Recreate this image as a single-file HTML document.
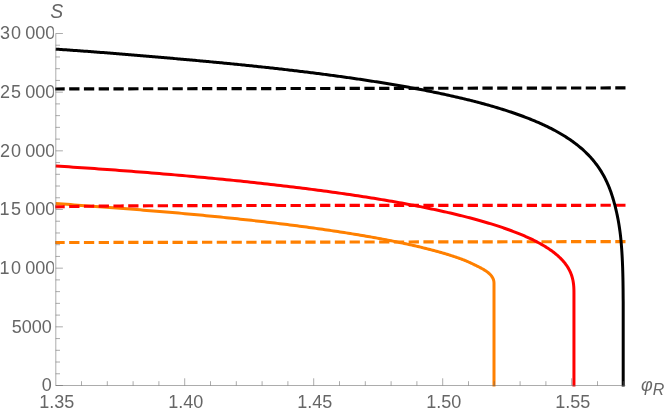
<!DOCTYPE html>
<html><head><meta charset="utf-8"><title>plot</title>
<style>
html,body{margin:0;padding:0;background:#fff;}
body{width:664px;height:415px;overflow:hidden;position:relative;font-family:"Liberation Sans",sans-serif;}
</style></head><body>
<svg width="664" height="415" viewBox="0 0 664 415" style="position:absolute;left:0;top:0;display:block;will-change:transform">
<rect width="664" height="415" fill="#fff"/>
<g id="curves">
<path d="M55.70,203.43 L59.41,203.68 L63.11,203.96 L66.79,204.27 L70.45,204.59 L74.10,204.91 L77.73,205.22 L81.34,205.52 L84.93,205.79 L88.51,206.04 L92.07,206.28 L95.61,206.53 L99.14,206.78 L102.65,207.03 L106.14,207.28 L109.61,207.53 L113.07,207.79 L116.51,208.04 L119.93,208.30 L123.34,208.56 L126.73,208.81 L130.10,209.07 L133.46,209.34 L136.79,209.60 L140.12,209.86 L143.42,210.13 L146.71,210.39 L149.98,210.66 L153.23,210.93 L156.47,211.19 L159.69,211.46 L162.89,211.74 L166.08,212.01 L169.25,212.28 L172.40,212.55 L175.54,212.83 L178.66,213.11 L181.76,213.38 L184.85,213.66 L187.92,213.94 L190.97,214.22 L194.00,214.50 L197.02,214.79 L200.03,215.07 L203.01,215.35 L205.98,215.64 L208.93,215.93 L211.87,216.21 L214.79,216.50 L217.69,216.79 L220.58,217.08 L223.45,217.37 L226.30,217.66 L229.14,217.96 L231.96,218.25 L234.76,218.54 L237.55,218.84 L240.32,219.14 L243.08,219.43 L245.81,219.73 L248.54,220.03 L251.24,220.33 L253.93,220.63 L256.60,220.93 L259.26,221.23 L261.90,221.53 L264.52,221.84 L267.13,222.14 L269.72,222.45 L272.30,222.75 L274.86,223.06 L277.40,223.37 L279.93,223.67 L282.44,223.98 L284.93,224.29 L287.41,224.60 L289.87,224.91 L292.32,225.23 L294.75,225.54 L297.16,225.85 L299.56,226.16 L301.94,226.48 L304.31,226.79 L306.66,227.11 L308.99,227.42 L311.31,227.74 L313.61,228.06 L315.90,228.37 L318.17,228.69 L320.42,229.01 L322.66,229.33 L324.88,229.65 L327.09,229.97 L329.28,230.29 L331.45,230.61 L333.61,230.94 L335.76,231.26 L337.88,231.58 L340.00,231.91 L342.09,232.23 L344.17,232.55 L346.24,232.88 L348.29,233.20 L350.32,233.53 L352.34,233.86 L354.34,234.18 L356.33,234.51 L358.30,234.84 L360.26,235.17 L362.20,235.49 L364.13,235.82 L366.04,236.15 L367.93,236.48 L369.81,236.81 L371.67,237.14 L373.52,237.47 L375.35,237.80 L377.17,238.14 L378.97,238.47 L380.76,238.80 L382.53,239.13 L384.29,239.46 L386.03,239.80 L387.76,240.13 L389.47,240.46 L391.16,240.80 L392.85,241.13 L394.51,241.46 L396.16,241.80 L397.80,242.13 L399.42,242.47 L401.02,242.80 L402.61,243.14 L404.19,243.47 L405.75,243.81 L407.30,244.14 L408.83,244.48 L410.34,244.81 L411.84,245.15 L413.33,245.48 L414.80,245.82 L416.26,246.16 L417.70,246.49 L419.13,246.83 L420.54,247.16 L421.94,247.50 L423.32,247.84 L424.69,248.17 L426.04,248.51 L427.38,248.85 L428.71,249.18 L430.02,249.52 L431.32,249.86 L432.60,250.19 L433.86,250.53 L435.12,250.87 L436.36,251.20 L437.58,251.54 L438.79,251.88 L439.99,252.21 L441.17,252.55 L442.33,252.88 L443.49,253.22 L444.62,253.56 L445.75,253.89 L446.86,254.23 L447.96,254.56 L449.04,254.90 L450.11,255.23 L451.16,255.57 L452.20,255.90 L453.23,256.24 L454.24,256.57 L455.24,256.90 L456.22,257.24 L457.19,257.57 L458.15,257.91 L459.09,258.24 L460.02,258.57 L460.94,258.90 L461.84,259.24 L462.73,259.57 L463.61,259.90 L464.47,260.23 L465.32,260.57 L466.15,260.92 L466.97,261.28 L467.78,261.63 L468.57,261.99 L469.36,262.35 L470.12,262.71 L470.88,263.06 L471.62,263.41 L472.35,263.76 L473.06,264.10 L473.76,264.44 L474.45,264.78 L475.13,265.11 L475.79,265.43 L476.44,265.75 L477.08,266.07 L477.71,266.38 L478.32,266.68 L478.92,266.99 L479.50,267.29 L480.08,267.58 L480.64,267.88 L481.18,268.17 L481.72,268.46 L482.24,268.75 L482.76,269.03 L483.25,269.32 L483.74,269.60 L484.21,269.89 L484.68,270.17 L485.13,270.46 L485.56,270.74 L485.99,271.03 L486.40,271.31 L486.80,271.60 L487.19,271.88 L487.57,272.17 L487.94,272.46 L488.29,272.75 L488.64,273.03 L488.97,273.32 L489.29,273.61 L489.60,273.90 L489.89,274.19 L490.18,274.48 L490.45,274.77 L490.72,275.06 L490.97,275.36 L491.21,275.65 L491.44,275.94 L491.66,276.24 L491.87,276.53 L492.07,276.83 L492.26,277.12 L492.43,277.42 L492.60,277.72 L492.76,278.01 L492.90,278.31 L493.04,278.61 L493.17,278.91 L493.29,279.22 L493.39,279.52 L493.49,279.83 L493.58,280.13 L493.66,280.44 L493.73,280.75 L493.79,281.06 L493.84,281.37 L493.89,281.69 L493.93,282.01 L493.95,282.33 L493.98,282.66 L493.99,282.99 L494.00,283.33 L494.00,283.70 L494.00,284.50 L494.00,386.50" fill="none" stroke="#ff8000" stroke-width="3" stroke-linejoin="round" stroke-linecap="butt"/>
<path d="M55.20,242.54 L625.50,241.59" fill="none" stroke="#ff8000" stroke-width="3.15" stroke-dasharray="10.3 4.46" stroke-dashoffset="0.8"/>
<path d="M55.70,166.00 L60.09,166.28 L64.46,166.57 L68.81,166.85 L73.15,167.14 L77.46,167.43 L81.75,167.72 L86.02,168.01 L90.27,168.31 L94.50,168.60 L98.70,168.90 L102.89,169.20 L107.06,169.50 L111.21,169.81 L115.34,170.11 L119.45,170.42 L123.53,170.72 L127.60,171.03 L131.65,171.35 L135.68,171.66 L139.68,171.97 L143.67,172.29 L147.64,172.61 L151.59,172.93 L155.51,173.25 L159.42,173.57 L163.31,173.90 L167.18,174.22 L171.02,174.55 L174.85,174.88 L178.66,175.21 L182.45,175.55 L186.21,175.88 L189.96,176.22 L193.69,176.56 L197.40,176.90 L201.09,177.24 L204.75,177.58 L208.40,177.92 L212.03,178.27 L215.64,178.62 L219.23,178.97 L222.80,179.32 L226.35,179.67 L229.88,180.02 L233.39,180.38 L236.88,180.74 L240.36,181.10 L243.81,181.46 L247.24,181.82 L250.65,182.18 L254.05,182.55 L257.42,182.91 L260.77,183.28 L264.11,183.65 L267.42,184.02 L270.72,184.39 L274.00,184.77 L277.25,185.14 L280.49,185.52 L283.71,185.90 L286.91,186.28 L290.09,186.66 L293.25,187.04 L296.39,187.43 L299.51,187.81 L302.61,188.20 L305.70,188.59 L308.76,188.98 L311.81,189.37 L314.83,189.76 L317.84,190.16 L320.83,190.56 L323.80,190.95 L326.74,191.35 L329.67,191.75 L332.59,192.15 L335.48,192.56 L338.35,192.96 L341.21,193.37 L344.04,193.78 L346.86,194.19 L349.65,194.60 L352.43,195.01 L355.19,195.42 L357.93,195.84 L360.65,196.25 L363.36,196.67 L366.04,197.09 L368.71,197.51 L371.35,197.93 L373.98,198.35 L376.59,198.78 L379.18,199.20 L381.75,199.63 L384.31,200.06 L386.84,200.49 L389.36,200.92 L391.86,201.35 L394.33,201.79 L396.79,202.22 L399.24,202.66 L401.66,203.10 L404.07,203.54 L406.45,203.98 L408.82,204.42 L411.17,204.86 L413.50,205.31 L415.81,205.75 L418.11,206.20 L420.39,206.65 L422.64,207.10 L424.88,207.55 L427.11,208.00 L429.31,208.46 L431.50,208.91 L433.66,209.37 L435.81,209.83 L437.94,210.29 L440.06,210.75 L442.15,211.21 L444.23,211.67 L446.29,212.14 L448.33,212.60 L450.35,213.07 L452.36,213.54 L454.34,214.01 L456.31,214.48 L458.27,214.95 L460.20,215.43 L462.12,215.90 L464.01,216.38 L465.89,216.86 L467.76,217.34 L469.60,217.82 L471.43,218.30 L473.24,218.78 L475.03,219.27 L476.81,219.75 L478.57,220.24 L480.31,220.73 L482.03,221.22 L483.73,221.71 L485.42,222.20 L487.09,222.69 L488.74,223.19 L490.38,223.68 L492.00,224.18 L493.60,224.68 L495.18,225.18 L496.75,225.68 L498.30,226.18 L499.83,226.69 L501.35,227.19 L502.85,227.70 L504.33,228.21 L505.79,228.72 L507.24,229.23 L508.67,229.74 L510.08,230.25 L511.48,230.77 L512.86,231.29 L514.22,231.80 L515.57,232.32 L516.90,232.84 L518.21,233.36 L519.51,233.89 L520.79,234.41 L522.05,234.94 L523.30,235.46 L524.53,235.99 L525.74,236.52 L526.94,237.05 L528.12,237.59 L529.28,238.12 L530.43,238.66 L531.56,239.20 L532.68,239.73 L533.78,240.27 L534.86,240.82 L535.93,241.36 L536.98,241.90 L538.01,242.45 L539.03,243.00 L540.03,243.55 L541.02,244.10 L541.99,244.65 L542.95,245.21 L543.89,245.76 L544.81,246.32 L545.72,246.88 L546.61,247.44 L547.49,248.00 L548.35,248.56 L549.19,249.13 L550.02,249.70 L550.84,250.27 L551.64,250.84 L552.42,251.41 L553.19,251.98 L553.94,252.56 L554.68,253.14 L555.41,253.72 L556.11,254.30 L556.81,254.88 L557.49,255.47 L558.15,256.06 L558.80,256.65 L559.43,257.24 L560.05,257.83 L560.65,258.43 L561.24,259.03 L561.82,259.63 L562.38,260.23 L562.93,260.84 L563.46,261.45 L563.98,262.06 L564.48,262.67 L564.97,263.28 L565.44,263.90 L565.90,264.52 L566.35,265.14 L566.78,265.77 L567.20,266.40 L567.61,267.03 L568.00,267.66 L568.38,268.30 L568.74,268.94 L569.09,269.59 L569.43,270.24 L569.76,270.89 L570.07,271.54 L570.37,272.20 L570.65,272.87 L570.92,273.53 L571.18,274.21 L571.43,274.88 L571.67,275.56 L571.89,276.25 L572.10,276.94 L572.30,277.64 L572.48,278.34 L572.66,279.05 L572.82,279.77 L572.97,280.49 L573.11,281.22 L573.23,281.96 L573.35,282.71 L573.45,283.47 L573.55,284.24 L573.63,285.03 L573.70,285.83 L573.77,286.64 L573.82,287.47 L573.86,288.33 L573.90,289.21 L573.92,290.13 L573.94,291.10 L573.95,292.16 L573.95,293.50 L573.95,386.50" fill="none" stroke="#ff0000" stroke-width="3" stroke-linejoin="round" stroke-linecap="butt"/>
<path d="M55.20,206.91 L62.42,206.70 L69.64,206.54 L76.86,206.41 L84.08,206.30 L91.29,206.20 L98.51,206.12 L105.73,206.06 L112.95,206.00 L120.17,205.95 L127.39,205.90 L134.61,205.86 L141.83,205.82 L149.05,205.79 L156.27,205.76 L163.48,205.73 L170.70,205.70 L177.92,205.68 L185.14,205.66 L192.36,205.64 L199.58,205.62 L206.80,205.60 L214.02,205.59 L221.24,205.57 L228.46,205.56 L235.67,205.55 L242.89,205.53 L250.11,205.52 L257.33,205.51 L264.55,205.50 L271.77,205.49 L278.99,205.48 L286.21,205.47 L293.43,205.46 L300.65,205.46 L307.86,205.45 L315.08,205.44 L322.30,205.43 L329.52,205.43 L336.74,205.42 L343.96,205.41 L351.18,205.41 L358.40,205.40 L365.62,205.40 L372.84,205.39 L380.05,205.39 L387.27,205.38 L394.49,205.38 L401.71,205.37 L408.93,205.37 L416.15,205.37 L423.37,205.36 L430.59,205.36 L437.81,205.35 L445.03,205.35 L452.24,205.35 L459.46,205.34 L466.68,205.34 L473.90,205.34 L481.12,205.33 L488.34,205.33 L495.56,205.33 L502.78,205.32 L510.00,205.32 L517.22,205.32 L524.43,205.32 L531.65,205.31 L538.87,205.31 L546.09,205.31 L553.31,205.31 L560.53,205.30 L567.75,205.30 L574.97,205.30 L582.19,205.30 L589.41,205.30 L596.62,205.29 L603.84,205.29 L611.06,205.29 L618.28,205.29 L625.50,205.29" fill="none" stroke="#ff0000" stroke-width="3.15" stroke-dasharray="10.3 4.46" stroke-dashoffset="0.8"/>
<path d="M55.70,49.17 L57.20,49.27 L58.69,49.37 L60.19,49.47 L61.69,49.57 L63.18,49.67 L64.68,49.77 L66.18,49.87 L67.67,49.98 L69.17,50.08 L70.67,50.18 L72.16,50.29 L73.66,50.39 L75.15,50.50 L76.65,50.60 L78.15,50.71 L79.64,50.82 L81.14,50.93 L82.64,51.03 L84.13,51.14 L85.63,51.25 L87.12,51.36 L88.62,51.47 L90.12,51.58 L91.61,51.70 L93.11,51.81 L94.60,51.92 L96.10,52.03 L97.59,52.15 L99.09,52.26 L100.59,52.38 L102.08,52.49 L103.58,52.61 L105.07,52.72 L106.57,52.84 L108.06,52.96 L109.56,53.08 L111.05,53.19 L112.55,53.31 L114.04,53.43 L115.54,53.55 L117.03,53.67 L118.53,53.79 L120.02,53.91 L121.52,54.03 L123.01,54.15 L124.51,54.27 L126.00,54.40 L127.50,54.52 L128.99,54.64 L130.49,54.77 L131.98,54.89 L133.48,55.01 L134.97,55.14 L136.47,55.26 L137.96,55.39 L139.46,55.51 L140.95,55.64 L142.45,55.77 L143.94,55.89 L145.44,56.02 L146.93,56.15 L148.43,56.27 L149.92,56.40 L151.41,56.53 L152.91,56.66 L154.40,56.79 L155.90,56.92 L157.39,57.05 L158.89,57.18 L160.38,57.31 L161.87,57.44 L163.37,57.57 L164.86,57.70 L166.36,57.83 L167.85,57.96 L169.35,58.09 L170.84,58.22 L172.33,58.35 L173.83,58.49 L175.32,58.62 L176.82,58.75 L178.31,58.89 L179.80,59.02 L181.30,59.15 L182.79,59.29 L184.28,59.42 L185.78,59.55 L187.27,59.69 L188.77,59.82 L190.26,59.96 L191.75,60.09 L193.25,60.23 L194.74,60.36 L196.23,60.50 L197.73,60.63 L199.22,60.77 L200.72,60.90 L202.21,61.04 L203.70,61.18 L205.20,61.32 L206.69,61.45 L208.18,61.59 L209.68,61.73 L211.17,61.87 L212.66,62.01 L214.16,62.15 L215.65,62.29 L217.14,62.43 L218.64,62.58 L220.13,62.72 L221.62,62.86 L223.11,63.01 L224.61,63.15 L226.10,63.30 L227.59,63.44 L229.09,63.59 L230.58,63.74 L232.07,63.88 L233.56,64.03 L235.05,64.18 L236.55,64.33 L238.04,64.48 L239.53,64.63 L241.02,64.78 L242.52,64.93 L244.01,65.09 L245.50,65.24 L246.99,65.39 L248.48,65.55 L249.98,65.70 L251.47,65.86 L252.96,66.01 L254.45,66.17 L255.94,66.33 L257.43,66.49 L258.92,66.64 L260.42,66.80 L261.91,66.96 L263.40,67.12 L264.89,67.29 L266.38,67.45 L267.87,67.61 L269.36,67.78 L270.85,67.94 L272.34,68.10 L273.83,68.27 L275.32,68.44 L276.81,68.60 L278.30,68.77 L279.79,68.94 L281.28,69.11 L282.77,69.28 L284.26,69.45 L285.75,69.62 L287.24,69.80 L288.73,69.97 L290.22,70.14 L291.71,70.32 L293.20,70.49 L294.69,70.67 L296.18,70.85 L297.67,71.03 L299.16,71.21 L300.65,71.39 L302.14,71.57 L303.63,71.75 L305.11,71.93 L306.60,72.11 L308.09,72.30 L309.58,72.48 L311.07,72.67 L312.55,72.85 L314.04,73.04 L315.53,73.23 L317.02,73.42 L318.51,73.61 L319.99,73.80 L321.48,73.99 L322.97,74.19 L324.45,74.38 L325.94,74.58 L327.43,74.77 L328.91,74.97 L330.40,75.17 L331.89,75.37 L333.37,75.57 L334.86,75.77 L336.35,75.97 L337.83,76.17 L339.32,76.38 L340.80,76.58 L342.29,76.79 L343.77,76.99 L345.26,77.20 L346.74,77.41 L348.23,77.62 L349.71,77.83 L351.20,78.05 L352.68,78.26 L354.17,78.48 L355.65,78.69 L357.13,78.91 L358.62,79.13 L360.10,79.35 L361.58,79.57 L363.07,79.79 L364.55,80.01 L366.03,80.24 L367.51,80.46 L369.00,80.69 L370.48,80.92 L371.96,81.15 L373.44,81.38 L374.92,81.61 L376.40,81.85 L377.89,82.08 L379.37,82.32 L380.85,82.55 L382.33,82.79 L383.81,83.03 L385.29,83.27 L386.77,83.52 L388.25,83.76 L389.73,84.01 L391.20,84.26 L392.68,84.51 L394.16,84.76 L395.64,85.01 L397.12,85.26 L398.59,85.52 L400.07,85.77 L401.55,86.03 L403.03,86.29 L404.50,86.55 L405.98,86.82 L407.45,87.08 L408.93,87.35 L410.40,87.62 L411.88,87.89 L413.35,88.16 L414.83,88.43 L416.30,88.71 L417.78,88.99 L419.25,89.26 L420.72,89.55 L422.19,89.83 L423.67,90.11 L425.14,90.40 L426.61,90.69 L428.08,90.98 L429.55,91.27 L431.02,91.57 L432.49,91.86 L433.96,92.16 L435.43,92.46 L436.89,92.77 L438.36,93.07 L439.83,93.38 L441.30,93.69 L442.76,94.00 L444.23,94.32 L445.69,94.63 L447.16,94.95 L448.62,95.27 L450.09,95.60 L451.55,95.93 L453.01,96.25 L454.47,96.59 L455.93,96.92 L457.40,97.26 L458.86,97.60 L460.31,97.94 L461.77,98.28 L463.23,98.63 L464.69,98.98 L466.15,99.34 L467.60,99.69 L469.06,100.05 L470.51,100.42 L471.96,100.78 L473.42,101.15 L474.87,101.52 L476.32,101.90 L477.77,102.27 L479.22,102.66 L480.67,103.04 L482.12,103.43 L483.56,103.82 L485.01,104.22 L486.45,104.62 L487.89,105.02 L489.34,105.43 L490.78,105.84 L492.22,106.25 L493.66,106.67 L495.09,107.09 L496.53,107.52 L497.97,107.95 L499.40,108.39 L500.83,108.83 L502.26,109.27 L503.69,109.72 L505.12,110.17 L506.55,110.63 L507.97,111.09 L509.40,111.56 L510.82,112.03 L512.24,112.51 L513.65,112.99 L515.07,113.48 L516.48,113.98 L517.90,114.48 L519.31,114.98 L520.71,115.49 L522.12,116.01 L523.52,116.53 L524.93,117.06 L526.32,117.59 L527.72,118.13 L529.11,118.68 L530.50,119.24 L531.89,119.80 L533.28,120.37 L534.66,120.94 L536.04,121.52 L537.42,122.11 L538.79,122.71 L540.16,123.32 L541.52,123.93 L542.88,124.55 L544.24,125.18 L545.59,125.82 L546.94,126.47 L548.29,127.12 L549.63,127.79 L550.96,128.46 L552.29,129.15 L553.62,129.84 L554.94,130.54 L556.25,131.26 L557.56,131.98 L558.87,132.72 L560.16,133.46 L561.45,134.22 L562.74,134.99 L564.01,135.76 L565.28,136.56 L566.54,137.36 L567.79,138.17 L569.04,139.00 L570.27,139.84 L571.50,140.69 L572.72,141.56 L573.92,142.44 L575.12,143.33 L576.31,144.24 L577.48,145.16 L578.65,146.09 L579.80,147.04 L580.94,148.01 L582.07,148.99 L583.18,149.98 L584.28,150.99 L585.37,152.01 L586.44,153.05 L587.50,154.10 L588.54,155.17 L589.57,156.25 L590.58,157.35 L591.57,158.46 L592.55,159.59 L593.51,160.73 L594.45,161.89 L595.37,163.06 L596.28,164.25 L597.16,165.44 L598.03,166.66 L598.88,167.89 L599.71,169.13 L600.52,170.38 L601.31,171.64 L602.07,172.92 L602.82,174.21 L603.56,175.51 L604.27,176.82 L604.96,178.14 L605.63,179.48 L606.28,180.82 L606.91,182.17 L607.53,183.53 L608.12,184.90 L608.70,186.28 L609.26,187.66 L609.80,189.05 L610.33,190.45 L610.83,191.85 L611.32,193.26 L611.80,194.68 L612.26,196.10 L612.70,197.53 L613.13,198.96 L613.56,200.39 L613.97,201.83 L614.36,203.27 L614.75,204.72 L615.13,206.16 L615.49,207.62 L615.84,209.07 L616.19,210.53 L616.52,211.99 L616.84,213.45 L617.15,214.91 L617.46,216.38 L617.75,217.85 L618.03,219.32 L618.30,220.80 L618.56,222.27 L618.82,223.75 L619.06,225.23 L619.29,226.71 L619.52,228.19 L619.73,229.68 L619.93,231.16 L620.13,232.65 L620.31,234.14 L620.49,235.63 L620.65,237.12 L620.81,238.61 L620.95,240.10 L621.09,241.60 L621.22,243.09 L621.34,244.59 L621.46,246.08 L621.58,247.58 L621.69,249.07 L621.79,250.57 L621.89,252.07 L621.98,253.56 L622.07,255.06 L622.15,256.56 L622.23,258.06 L622.30,259.56 L622.37,261.05 L622.44,262.55 L622.50,264.05 L622.56,265.55 L622.62,267.05 L622.67,268.55 L622.71,270.05 L622.76,271.55 L622.80,273.05 L622.84,274.55 L622.87,276.05 L622.91,277.55 L622.94,279.04 L622.96,280.54 L622.99,282.04 L623.01,283.54 L623.03,285.04 L623.05,286.54 L623.07,288.04 L623.09,289.54 L623.10,291.04 L623.11,292.54 L623.12,294.04 L623.13,295.54 L623.14,297.04 L623.15,298.54 L623.20,302.00 L623.20,386.50" fill="none" stroke="#000000" stroke-width="3" stroke-linejoin="round" stroke-linecap="butt"/>
<path d="M55.20,88.95 L625.50,87.92" fill="none" stroke="#000000" stroke-width="3.15" stroke-dasharray="10.3 4.46" stroke-dashoffset="0.8"/>
</g>
<g id="axes" stroke="#666666" stroke-width="0.55" fill="none">
<path d="M55.70,385.50 L625.35,385.50"/>
<path d="M55.80,385.50 L55.80,33.50"/>
<path d="M81.50,385.50 v-4.3 M107.30,385.50 v-4.3 M133.10,385.50 v-4.3 M158.90,385.50 v-4.3 M184.70,385.50 v-7.2 M210.50,385.50 v-4.3 M236.30,385.50 v-4.3 M262.10,385.50 v-4.3 M287.90,385.50 v-4.3 M313.70,385.50 v-7.2 M339.50,385.50 v-4.3 M365.30,385.50 v-4.3 M391.10,385.50 v-4.3 M416.90,385.50 v-4.3 M442.70,385.50 v-7.2 M468.50,385.50 v-4.3 M494.30,385.50 v-4.3 M520.10,385.50 v-4.3 M545.90,385.50 v-4.3 M571.70,385.50 v-7.2 M597.50,385.50 v-4.3 M623.30,385.50 v-4.3 M55.70,385.50 h7.2 M55.70,373.77 h4.3 M55.70,362.03 h4.3 M55.70,350.30 h4.3 M55.70,338.57 h4.3 M55.70,326.83 h7.2 M55.70,315.10 h4.3 M55.70,303.37 h4.3 M55.70,291.63 h4.3 M55.70,279.90 h4.3 M55.70,268.17 h7.2 M55.70,256.43 h4.3 M55.70,244.70 h4.3 M55.70,232.97 h4.3 M55.70,221.23 h4.3 M55.70,209.50 h7.2 M55.70,197.77 h4.3 M55.70,186.03 h4.3 M55.70,174.30 h4.3 M55.70,162.57 h4.3 M55.70,150.83 h7.2 M55.70,139.10 h4.3 M55.70,127.37 h4.3 M55.70,115.63 h4.3 M55.70,103.90 h4.3 M55.70,92.17 h7.2 M55.70,80.43 h4.3 M55.70,68.70 h4.3 M55.70,56.97 h4.3 M55.70,45.23 h4.3 M55.70,33.50 h7.2"/>
</g>
<g id="labels" font-family="'Liberation Sans', sans-serif" font-size="18px" fill="#666666">
<text x="56.80" y="407.9" text-anchor="middle">1.35</text>
<text x="185.80" y="407.9" text-anchor="middle">1.40</text>
<text x="314.80" y="407.9" text-anchor="middle">1.45</text>
<text x="443.80" y="407.9" text-anchor="middle">1.50</text>
<text x="572.80" y="407.9" text-anchor="middle">1.55</text>
<clipPath id="yl"><rect x="0" y="0" width="53.8" height="415"/></clipPath>
<g clip-path="url(#yl)">
<text x="51.8" y="391.40" text-anchor="end">0</text>
<text x="51.8" y="332.73" text-anchor="end">5000</text>
<text x="-0.5" y="274.07">1<tspan dx="1.4">0</tspan><tspan dx="4.2">000</tspan></text>
<text x="-0.5" y="215.40">1<tspan dx="1.4">5</tspan><tspan dx="4.2">000</tspan></text>
<text x="-0.1" y="156.73">2<tspan dx="1.0">0</tspan><tspan dx="4.2">000</tspan></text>
<text x="-0.1" y="98.07">2<tspan dx="1.0">5</tspan><tspan dx="4.2">000</tspan></text>
<text x="-0.1" y="39.40">3<tspan dx="1.0">0</tspan><tspan dx="4.2">000</tspan></text>
</g>
<text x="56.8" y="17.6" text-anchor="middle" font-style="italic" font-size="19.4px">S</text>
<text x="641" y="391.2" font-style="italic">φ<tspan font-size="16px" dy="3.7">R</tspan></text>
</g>
</svg>
</body></html>
